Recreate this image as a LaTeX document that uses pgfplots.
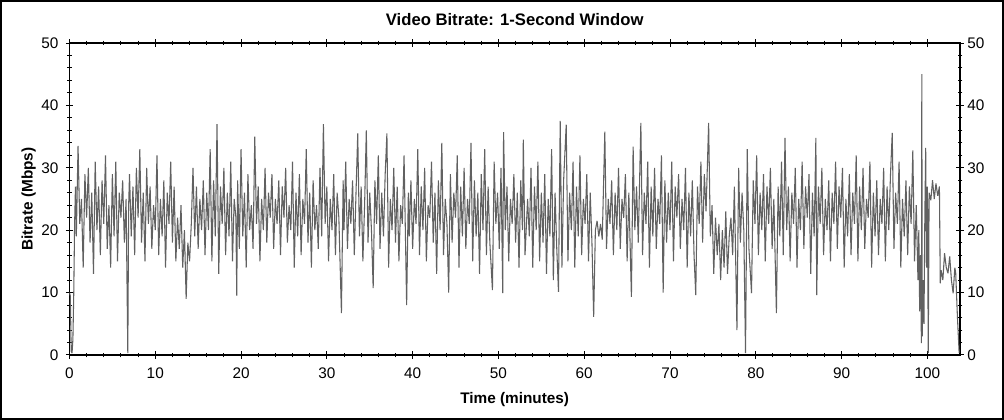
\documentclass[border=0pt]{standalone}
\usepackage{fontspec}
\setmainfont{Liberation Sans}
\usepackage{pgfplots}
\pgfplotsset{compat=1.18}
\begin{document}
\begin{tikzpicture}
\path[use as bounding box] (0,0) rectangle (753pt,315pt);
\draw[line width=1.3pt] (0.65pt,0.65pt) rectangle (752.35pt,314.35pt);
\pgfplotsset{
  myaxis/.style={
    at={(52.1pt,48.75pt)}, anchor=south west,
    scale only axis, width=667.9pt, height=234pt,
    xmin=0, xmax=103.8, ymin=0, ymax=50,
    xtick={0,10,...,100}, ytick={0,10,...,50},
    minor x tick num=4, minor y tick num=4,
    tick align=center,
    major tick length=5.5pt, minor tick length=3.5pt,
    every tick/.style={black, line width=0.75pt},
    /pgf/number format/assume math mode=true,
    tick label style={font=\fontsize{11.5}{13}\selectfont},
  }
}
\begin{axis}[myaxis,
    axis line style={line width=1.1pt},
    xtick pos=both, ytick pos=both,
    xticklabel pos=bottom, yticklabel pos=left,
    xticklabel style={yshift=-3pt},
    yticklabel style={xshift=-2pt},
  ]
\addplot[black!62, line width=0.8pt, line join=bevel] coordinates {
(0,10)(0.1,9.5)(0.2,0.6)(0.3,0.3)(0.4,2.5)(0.5,9.8)(0.6,21)(0.7,27)(0.8,19)(1.0,33.5)(1.2,21)(1.4,25)(1.6,14)(1.8,29)
(2.0,22)(2.2,30)(2.4,18)(2.6,26)(2.8,13)(3.0,31)(3.2,20)(3.4,27)(3.6,16)(3.8,28)
(4.0,21)(4.2,32)(4.4,17)(4.6,24)(4.8,14)(5.0,29)(5.2,19)(5.4,31)(5.6,15)(5.8,26)
(6.0,22)(6.2,28)(6.4,18)(6.6,25)(6.8,0.3)(6.9,24)(7.0,29)(7.2,19)(7.4,27)(7.6,16)(7.8,30)
(8.0,22)(8.2,33)(8.4,18)(8.6,26)(8.8,15)(9.0,30)(9.2,21)(9.4,27)(9.6,17)(9.8,24)
(10.0,20)(10.2,32)(10.4,16)(10.6,25)(10.8,19)(11.0,28)(11.2,14)(11.4,26)(11.6,21)(11.8,31)
(12.0,18)(12.2,27)(12.4,15)(12.6,22)(12.8,17)(13.0,24)(13.2,14)(13.4,20)(13.6,9)(13.8,18)
(14.0,15)(14.2,21)(14.4,30)(14.6,19)(14.8,27)(15.0,17)(15.2,25)(15.4,20)(15.6,28)(15.8,16)
(16.0,26)(16.2,20)(16.4,33)(16.6,15)(16.8,28)(17.0,19)(17.2,37)(17.4,13)(17.6,27)(17.8,21)
(18.0,30)(18.2,16)(18.4,26)(18.6,19)(18.8,31)(19.0,15)(19.2,25)(19.4,22)(19.5,9.5)(19.6,28)(19.8,17)
(20.0,33)(20.2,19)(20.4,26)(20.6,14)(20.8,29)(21.0,20)(21.2,24)(21.4,17)(21.6,35)(21.8,21)
(22.0,27)(22.2,15)(22.4,25)(22.6,20)(22.8,30)(23.0,18)(23.2,26)(23.4,22)(23.6,29)(23.8,17)
(24.0,25)(24.2,21)(24.4,28)(24.6,16)(24.8,27)(25.0,22)(25.2,30)(25.4,18)(25.6,24)(25.8,20)
(26.0,31)(26.2,14)(26.4,26)(26.6,19)(26.8,29)(27.0,16)(27.2,25)(27.4,21)(27.6,33)(27.8,18)
(28.0,26)(28.2,14)(28.4,28)(28.6,20)(28.8,24)(29.0,17)(29.2,30)(29.4,19)(29.6,37)(29.8,21)
(30.0,27)(30.2,15)(30.4,25)(30.6,20)(30.8,29)(31.0,16)(31.2,26)(31.4,22)(31.7,6.7)(31.9,28)
(32.0,20)(32.2,31)(32.4,17)(32.6,25)(32.8,21)(33.0,28)(33.2,16)(33.4,26)(33.6,35.5)(33.8,19)
(34.0,27)(34.2,15)(34.4,24)(34.6,36)(34.8,18)(35.0,26)(35.2,20)(35.4,10.7)(35.6,28)(35.8,21)
(36.0,32)(36.2,17)(36.4,26)(36.6,19)(36.8,29)(37.0,35.5)(37.2,14)(37.4,25)(37.6,20)(37.8,30)
(38.0,18)(38.2,27)(38.4,15)(38.6,24)(38.8,21)(39.0,32)(39.3,8)(39.5,26)(39.6,19)(39.8,28)
(40.0,17)(40.2,25)(40.4,21)(40.6,33)(40.8,16)(41.0,27)(41.2,20)(41.4,30)(41.6,15)(41.8,24)
(42.0,22)(42.2,31)(42.4,18)(42.6,26)(42.8,13)(43.0,28)(43.2,20)(43.4,34)(43.6,16)(43.8,25)
(44.0,21)(44.2,10)(44.4,29)(44.6,18)(44.8,26)(45.0,22)(45.2,32)(45.4,14)(45.6,27)(45.8,19)
(46.0,30)(46.2,17)(46.4,25)(46.6,21)(46.8,34)(47.0,15)(47.2,28)(47.4,19)(47.6,26)(47.8,13)
(48.0,29)(48.2,20)(48.4,33)(48.6,16)(48.8,27)(49.0,18)(49.3,10.4)(49.5,31)(49.7,21)(49.9,26)
(50.1,17)(50.3,30)(50.5,9.9)(50.6,35.7)(50.8,20)(51.0,27)(51.2,15)(51.4,25)(51.6,21)(51.8,29)
(52.0,18)(52.2,26)(52.4,14)(52.6,28)(52.8,20)(52.9,34.5)(53.1,16)(53.4,25)(53.6,19)(53.8,30)
(54.0,14)(54.2,27)(54.4,20)(54.6,31)(54.8,15)(55.0,26)(55.2,18)(55.4,29)(55.6,13)(55.8,25)
(56.0,19)(56.2,33)(56.4,12)(56.6,26)(56.8,17)(57.0,10.1)(57.2,37.5)(57.4,14)(57.6,28)(57.9,36.9)
(58.1,15)(58.3,26)(58.5,20)(58.7,31)(58.9,14)(59.1,27)(59.3,19)(59.5,32)(59.7,16)(59.9,25)
(60.1,21)(60.3,29)(60.5,15)(60.7,26)(60.9,18)(61.1,6.1)(61.3,20)(61.5,21.5)(61.7,19)(61.9,21)
(62.1,18.5)(62.4,35.8)(62.6,17)(62.8,25)(63.0,21)(63.2,28)(63.4,16)(63.6,26)(63.8,20)(64.0,30)
(64.2,17)(64.4,25)(64.6,22)(64.8,29)(65.0,15)(65.2,26)(65.5,9.3)(65.7,33.4)(65.9,20)(66.1,27)
(66.3,18)(66.6,37.2)(66.8,16)(67.0,26)(67.2,21)(67.4,31)(67.6,14)(67.8,27)(68.0,19)(68.2,30)
(68.4,17)(68.6,25)(68.8,21)(69.0,32)(69.2,10)(69.4,28)(69.6,18)(69.8,26)(70.0,20)(70.2,31)
(70.4,15)(70.6,27)(70.8,22)(71.0,29)(71.2,17)(71.4,25)(71.6,20)(71.8,30)(72.0,14)(72.2,26)
(72.4,19)(72.6,28)(72.8,16)(73.0,9.6)(73.2,27)(73.4,21)(73.6,31)(73.8,18)(74.0,29)(74.2,23)
(74.5,37.2)(74.7,19)(74.9,24)(75.1,13)(75.3,22)(75.5,16)(75.7,21)(75.9,12)(76.1,20)(76.3,14)
(76.5,23)(76.7,13)(76.9,19)(77.1,22)(77.3,16)(77.5,27)(77.8,4)(78.0,30)(78.2,18)(78.4,26)
(78.6,20)(78.8,0.3)(79.0,33)(79.2,17)(79.5,9.9)(79.7,28)(79.9,21)(80.1,32)(80.3,16)(80.5,26)
(80.7,20)(80.9,29)(81.1,15)(81.3,27)(81.5,21)(81.7,30)(81.9,17)(82.1,25)(82.4,6.7)(82.6,27)
(82.8,19)(83.0,31)(83.2,16)(83.4,34.8)(83.6,20)(83.8,27)(84.0,15)(84.2,26)(84.4,21)(84.6,30)
(84.8,14)(85.0,25)(85.2,20)(85.4,31)(85.6,17)(85.8,27)(86.0,22)(86.2,29)(86.4,13)(86.6,26)
(86.8,19)(87.0,34.8)(87.1,9.6)(87.3,27)(87.5,21)(87.7,30)(87.9,16)(88.1,25)(88.3,20)(88.5,28)
(88.7,15)(88.9,26)(89.1,21)(89.3,31)(89.5,17)(89.7,27)(89.9,22)(90.1,30)(90.3,14)(90.5,25)
(90.7,19)(90.9,29)(91.1,16)(91.3,26)(91.5,21)(91.7,32)(91.9,15)(92.1,27)(92.3,20)(92.5,30)
(92.7,17)(92.9,25)(93.1,22)(93.3,31)(93.5,14)(93.7,26)(93.9,19)(94.1,28)(94.3,16)(94.5,25)
(94.7,21)(94.9,30)(95.1,15)(95.3,27)(95.5,20)(95.7,29)(95.9,35.6)(96.1,17)(96.3,26)(96.5,21)
(96.7,31)(96.9,14)(97.1,25)(97.3,19)(97.5,28)(97.7,16)(97.9,27)(98.1,21)(98.3,32.8)(98.5,15)
(98.7,24)(98.9,12)(99.0,20)(99.1,7)(99.2,16)(99.3,1.9)(99.35,45)(99.4,3)(99.5,12)(99.6,5)(99.7,22)(99.8,33.2)(99.9,14)(100.0,27)(100.1,0.3)(100.2,26)
(100.4,24.8)(100.6,28)(100.8,25)(101.0,27.5)(101.2,25.5)(101.4,27)(101.5,11.5)(101.6,13.6)(101.8,12)(102.0,16.3)(102.2,14)(102.4,13.1)(102.6,15.8)(102.8,12)(103.0,9.9)(103.2,14)(103.3,13.1)(103.5,6.1)(103.7,0.3)
};
\end{axis}
\begin{axis}[myaxis,
    axis line style={draw=none},
    xtick=\empty, ytick pos=right, yticklabel pos=right,
    major tick length=0pt, minor tick length=0pt,
    yticklabel style={xshift=2pt},
  ]
\addplot[draw=none] coordinates {(0,0)};
\end{axis}
\node[font=\bfseries\fontsize{12.5}{14}\selectfont] at (386pt,300pt) {Video Bitrate: 1-Second Window};
\node[font=\bfseries\fontsize{11.5}{13}\selectfont] at (386pt,15pt) {Time (minutes)};
\node[font=\bfseries\fontsize{11.5}{13}\selectfont, rotate=90] at (21.5pt,165.8pt) {Bitrate (Mbps)};
\end{tikzpicture}
\end{document}
